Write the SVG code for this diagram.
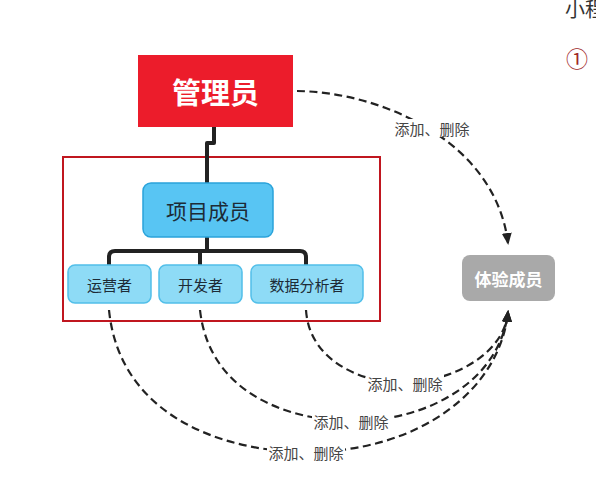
<svg xmlns="http://www.w3.org/2000/svg" width="596" height="488" viewBox="0 0 596 488">
<style>
.t{font-family:"Noto Sans CJK SC","Noto Sans",sans-serif}
.dash{fill:none;stroke:#222;stroke-width:2.2;stroke-dasharray:8 4.5}
.tree{fill:none;stroke:#222;stroke-width:4;stroke-linejoin:round}
.lbl{font-size:15px;fill:#444;text-anchor:middle;dominant-baseline:central}
.child{fill:#8edbf6;stroke:#52bfe9;stroke-width:1.5}
.ctext{font-size:15px;fill:#1d2b36;text-anchor:middle;dominant-baseline:central}
</style>
<defs>
<marker id="ah2" markerWidth="12" markerHeight="10" refX="10" refY="5" orient="auto" markerUnits="userSpaceOnUse" viewBox="0 0 12 10">
<path d="M0 0 L12 5 L0 10 Z" fill="#222"/>
</marker>
</defs>
<rect width="596" height="488" fill="#fff"/>
<text class="t" x="565" y="17" font-size="20" fill="#333">小程</text>
<text class="t" x="566" y="67" font-size="22" fill="#a0282a">①</text>
<rect id="group-frame" x="63" y="157" width="317" height="164" fill="none" stroke="#c0161f" stroke-width="2"/>
<g id="connectors">
<path class="tree" d="M214 127 V143 H207 V183"/>
<path class="tree" d="M207 237 V251 M109 265 V257 Q109 251 115 251 H300 Q306 251 306 257 V265 M200 251 V265"/>
<path class="dash" d="M297 91 C380 92 495 140 508 243" marker-end="url(#ah2)"/>
<path class="dash" d="M306 310 C310 370 380 385 405 383 C460 380 505 350 508 312" marker-end="url(#ah2)"/>
<path class="dash" d="M200 310 C210 400 300 421 352 421 C430 421 500 380 508 312" marker-end="url(#ah2)"/>
<path class="dash" d="M109 310 C120 420 230 452 306 452 C420 452 500 390 508 312" marker-end="url(#ah2)"/>
<rect x="393" y="119" width="78" height="18" fill="#fff"/>
<text class="t lbl" x="432" y="128">添加、删除</text>
<rect x="366" y="374" width="78" height="18" fill="#fff"/>
<text class="t lbl" x="405" y="383">添加、删除</text>
<rect x="312" y="412" width="78" height="18" fill="#fff"/>
<text class="t lbl" x="351" y="421">添加、删除</text>
<rect x="267" y="443" width="78" height="18" fill="#fff"/>
<text class="t lbl" x="306" y="452">添加、删除</text>
</g>
<g id="admin">
<rect x="138" y="55" width="155" height="72" fill="#ec1c2b"/>
<text class="t" x="215.5" y="91" font-size="29" font-weight="bold" fill="#fff" text-anchor="middle" dominant-baseline="central">管理员</text>
</g>
<g id="members">
<rect x="143" y="183" width="130" height="54" rx="8" fill="#58c5f3" stroke="#2aa3da" stroke-width="1.5"/>
<text class="t" x="208" y="210" font-size="21" fill="#1d2b36" text-anchor="middle" dominant-baseline="central">项目成员</text>
</g>
<g id="ops">
<rect class="child" x="68" y="265" width="83" height="38" rx="7"/>
<text class="t ctext" x="109.5" y="284">运营者</text>
</g>
<g id="dev">
<rect class="child" x="159" y="265" width="83" height="38" rx="7"/>
<text class="t ctext" x="200.5" y="284">开发者</text>
</g>
<g id="analyst">
<rect class="child" x="251" y="265" width="112" height="38" rx="7"/>
<text class="t ctext" x="307" y="284">数据分析者</text>
</g>
<g id="trial">
<rect x="462" y="255" width="93" height="46" rx="8" fill="#a9a9a9"/>
<text class="t" x="508.5" y="278" font-size="17" font-weight="bold" fill="#fff" text-anchor="middle" dominant-baseline="central">体验成员</text>
</g>
</svg>
